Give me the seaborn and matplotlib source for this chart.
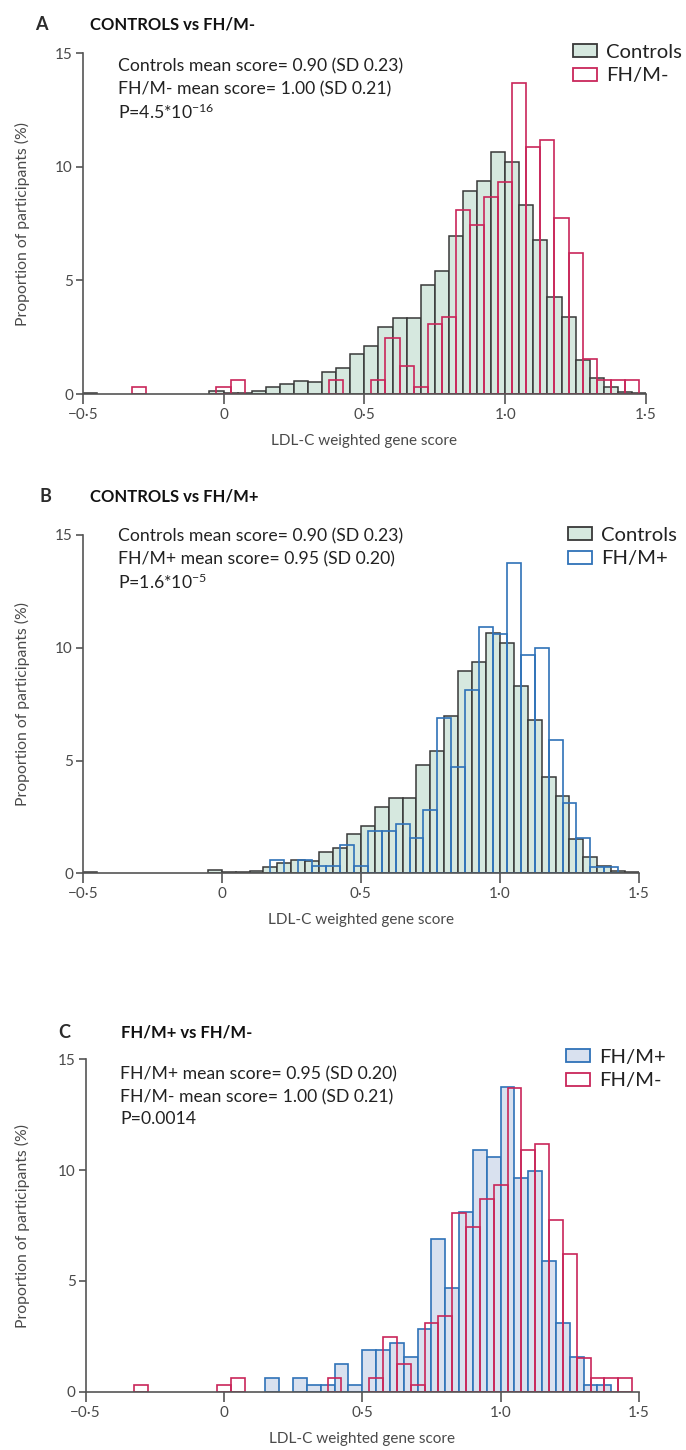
import numpy as np
import pandas as pd
import matplotlib
matplotlib.use("Agg")
import matplotlib.pyplot as plt
from matplotlib.patches import Patch
import seaborn as sns

# ---------------------------------------------------------------
# Distribution of the LDL-C weighted gene score (% of participants)
# Each list gives the lower edge of a 0.05-wide score bin and the
# proportion of participants falling in it.
# ---------------------------------------------------------------
BIN_WIDTH = 0.05

controls_lefts = [-0.50, -0.05, 0.00, 0.05, 0.10, 0.15, 0.20, 0.25, 0.30, 0.35,
                  0.40, 0.45, 0.50, 0.55, 0.60, 0.65, 0.70, 0.75, 0.80, 0.85,
                  0.90, 0.95, 1.00, 1.05, 1.10, 1.15, 1.20, 1.25, 1.30, 1.35,
                  1.40, 1.45]
controls_pct = [0.05, 0.15, 0.04, 0.04, 0.12, 0.30, 0.44, 0.58, 0.54, 0.95,
                1.13, 1.76, 2.10, 2.93, 3.36, 3.36, 4.78, 5.41, 6.97, 8.95,
                9.39, 10.66, 10.23, 8.31, 6.79, 4.29, 3.41, 1.50, 0.72, 0.31,
                0.08, 0.06]

fh_neg_lefts = [-0.325, -0.025, 0.025, 0.375, 0.525, 0.575, 0.625, 0.675, 0.725,
                0.775, 0.825, 0.875, 0.925, 0.975, 1.025, 1.075, 1.125, 1.175,
                1.225, 1.275, 1.325, 1.375, 1.425]
fh_neg_pct = [0.30, 0.30, 0.61, 0.61, 0.61, 2.47, 1.23, 0.29, 3.10, 3.41,
              8.08, 7.44, 8.69, 9.32, 13.69, 10.89, 11.18, 7.74, 6.20, 1.54,
              0.61, 0.61, 0.61]

fh_pos_lefts = [0.15, 0.25, 0.30, 0.35, 0.40, 0.45, 0.50, 0.55, 0.60, 0.65,
                0.70, 0.75, 0.80, 0.85, 0.90, 0.95, 1.00, 1.05, 1.10, 1.15,
                1.20, 1.25, 1.30, 1.35]
fh_pos_pct = [0.61, 0.61, 0.31, 0.31, 1.25, 0.31, 1.87, 1.87, 2.19, 1.55,
              2.81, 6.87, 4.70, 8.11, 10.91, 10.60, 13.75, 9.66, 9.98, 5.91,
              3.10, 1.55, 0.30, 0.30]

x_ticks = [-0.5, 0.0, 0.5, 1.0, 1.5]
x_tick_labels = ["\u22120\u00b75", "0", "0\u00b75", "1\u00b70", "1\u00b75"]
y_ticks = [0, 5, 10, 15]

panels = [
    dict(letter="A", title="CONTROLS vs FH/M-",
         stats=["Controls mean score= 0.90 (SD 0.23)",
                "FH/M- mean score= 1.00 (SD 0.21)",
                r"P=4.5*10$^{\mathregular{-16}}$"]),
    dict(letter="B", title="CONTROLS vs FH/M+",
         stats=["Controls mean score= 0.90 (SD 0.23)",
                "FH/M+ mean score= 0.95 (SD 0.20)",
                r"P=1.6*10$^{\mathregular{-5}}$"]),
    dict(letter="C", title="FH/M+ vs FH/M-",
         stats=["FH/M+ mean score= 0.95 (SD 0.20)",
                "FH/M- mean score= 1.00 (SD 0.21)",
                "P=0.0014"]),
]

# ---------------------------------------------------------------
sns.set_style("ticks")
plt.rcParams["font.family"] = ["Lato", "DejaVu Sans"]
plt.rcParams["mathtext.fontset"] = "custom"
plt.rcParams["mathtext.rm"] = "Lato"
plt.rcParams["mathtext.default"] = "regular"

W, H = 686, 1450
fig = plt.figure(figsize=(W / 100, H / 100), dpi=100)

AXIS_GREY = "#555555"
TEXT_GREY = "#4a4a4a"
CTRL_FILL = "#d6e8df"
CTRL_EDGE = "#383838"
RED = "#c9265a"
BLUE = "#2f72b8"
BLUE_FILL = "#d9e1ef"


def rect(left, right, top, bottom):
    return [left / W, 1 - bottom / H, (right - left) / W, (bottom - top) / H]


def draw_hist(ax, lefts, pct, shift, fill, facecolor, edgecolor, lw):
    lefts = np.asarray(lefts, dtype=float) + shift
    df = pd.DataFrame({"score": lefts + BIN_WIDTH / 2, "pct": pct})
    n = int(round((lefts.max() - lefts.min()) / BIN_WIDTH)) + 1
    edges = [float(lefts.min() + BIN_WIDTH * k) for k in range(n + 1)]
    before = len(ax.patches)
    sns.histplot(data=df, x="score", weights="pct", bins=edges, stat="count",
                 element="bars", fill=True, color=edgecolor, ax=ax, legend=False)
    for p in ax.patches[before:]:
        p.set_facecolor(facecolor if fill else "none")
        p.set_edgecolor(edgecolor)
        p.set_linewidth(lw)
        p.set_alpha(1)
        if p.get_height() <= 0:
            p.set_visible(False)


boxes = [
    rect(82.7, 646.0, 53.3, 394.0),
    rect(82.7, 639.0, 535.0, 873.3),
    rect(85.5, 639.0, 1059.3, 1391.7),
]
title_y = [24, 497, 1032]
letter_x = [41, 45, 64]
title_x = [90, 90, 121]
stats_x = [118, 118, 120]
stats_y = [[66, 89, 112], [536, 559, 582], [1074, 1097, 1119]]
legend_xy = [(573, 44), (568, 527), (566, 1049)]

for i, (panel, box) in enumerate(zip(panels, boxes)):
    ax = fig.add_axes(box)

    if i == 0:
        draw_hist(ax, controls_lefts, controls_pct, 0.0, True, CTRL_FILL, CTRL_EDGE, 1.1)
        draw_hist(ax, fh_neg_lefts, fh_neg_pct, 0.0, False, RED, RED, 1.2)
        handles = [Patch(facecolor=CTRL_FILL, edgecolor=CTRL_EDGE, linewidth=1.3, label="Controls"),
                   Patch(facecolor="white", edgecolor=RED, linewidth=1.3, label="FH/M-")]
    elif i == 1:
        draw_hist(ax, controls_lefts, controls_pct, 0.0, True, CTRL_FILL, CTRL_EDGE, 1.1)
        draw_hist(ax, fh_pos_lefts, fh_pos_pct, BIN_WIDTH / 2, False, BLUE, BLUE, 1.2)
        handles = [Patch(facecolor=CTRL_FILL, edgecolor=CTRL_EDGE, linewidth=1.3, label="Controls"),
                   Patch(facecolor="white", edgecolor=BLUE, linewidth=1.3, label="FH/M+")]
    else:
        draw_hist(ax, fh_pos_lefts, fh_pos_pct, 0.0, True, BLUE_FILL, BLUE, 1.2)
        draw_hist(ax, fh_neg_lefts, fh_neg_pct, 0.0, False, RED, RED, 1.2)
        handles = [Patch(facecolor=BLUE_FILL, edgecolor=BLUE, linewidth=1.3, label="FH/M+"),
                   Patch(facecolor="white", edgecolor=RED, linewidth=1.3, label="FH/M-")]

    ax.set_xlim(-0.5, 1.5)
    ax.set_ylim(0, 15)
    ax.set_xticks(x_ticks)
    ax.set_xticklabels(x_tick_labels)
    ax.set_yticks(y_ticks)
    ax.tick_params(axis="x", length=7, width=1.2, color=AXIS_GREY,
                   labelcolor=TEXT_GREY, labelsize=11, pad=3)
    ax.tick_params(axis="y", length=5, width=1.2, color=AXIS_GREY,
                   labelcolor=TEXT_GREY, labelsize=11, pad=2)
    sns.despine(ax=ax)
    for s in ("left", "bottom"):
        ax.spines[s].set_color(AXIS_GREY)
        ax.spines[s].set_linewidth(1.2)
    ax.set_facecolor("none")

    # axis labels
    bw = box[2] * W
    bh = box[3] * H
    ax.set_xlabel("LDL-C weighted gene score", fontsize=11, color=TEXT_GREY)
    ax.xaxis.set_label_coords(0.5, -(40 / bh))
    ax.set_ylabel("Proportion of participants (%)", fontsize=11.3, color=TEXT_GREY)
    ax.yaxis.set_label_coords(-((box[0] * W - 30) / bw), 0.5)

    # panel letter and heading
    fig.text(letter_x[i] / W, 1 - title_y[i] / H, panel["letter"], fontsize=13,
             fontweight="bold", color="#2b2b2b", ha="center", va="center")
    fig.text(title_x[i] / W, 1 - title_y[i] / H, panel["title"], fontsize=12,
             fontweight="bold", color="#111111", ha="left", va="center")

    # summary statistics
    for line, y in zip(panel["stats"], stats_y[i]):
        fig.text(stats_x[i] / W, 1 - y / H, line, fontsize=12.7, color="#222222",
                 ha="left", va="center")

    lx, ly = legend_xy[i]
    ax.legend(handles=handles, loc="upper left",
              bbox_to_anchor=(lx / W, 1 - ly / H), bbox_transform=fig.transFigure,
              frameon=False, fontsize=14.6, handlelength=1.2, handleheight=0.6,
              handletextpad=0.45, labelspacing=0.32, borderaxespad=0, borderpad=0,
              labelcolor="#222222")

fig.savefig("out.png", dpi=100, facecolor="white")
